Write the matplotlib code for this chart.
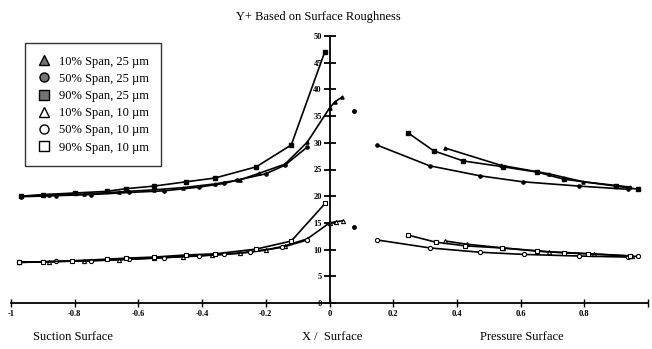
import numpy as np
import matplotlib.pyplot as plt
from matplotlib.lines import Line2D

plt.rcParams['font.family'] = ['Liberation Serif', 'DejaVu Serif']

# 25 um roughness, suction side
s25_10_x = [-0.97, -0.88, -0.77, -0.66, -0.55, -0.46, -0.36, -0.28, -0.22, -0.14, -0.07, 0.0, 0.016, 0.04]
s25_10_y = [20.0, 20.2, 20.4, 20.8, 21.2, 21.6, 22.3, 23.1, 24.3, 26.0, 30.1, 36.5, 37.6, 38.6]
s25_50_x = [-0.97, -0.86, -0.75, -0.63, -0.52, -0.41, -0.33, -0.29, -0.2, -0.14, -0.07]
s25_50_y = [19.9, 20.1, 20.3, 20.7, 21.0, 21.7, 22.4, 23.0, 24.2, 25.8, 29.2]
s25_90_x = [-0.97, -0.9, -0.8, -0.7, -0.64, -0.55, -0.45, -0.36, -0.23, -0.12, -0.015]
s25_90_y = [20.0, 20.3, 20.6, 20.9, 21.4, 21.9, 22.7, 23.4, 25.5, 29.6, 47.0]
# 25 um, pressure side
p25_10_x = [0.364, 0.537, 0.688, 0.797, 0.945]
p25_10_y = [29.0, 25.8, 24.2, 22.7, 21.7]
p25_50_x = [0.148, 0.314, 0.474, 0.606, 0.782, 0.936]
p25_50_y = [29.6, 25.7, 23.8, 22.7, 21.9, 21.3]
p25_90_x = [0.248, 0.327, 0.42, 0.546, 0.653, 0.735, 0.898, 0.97]
p25_90_y = [31.8, 28.5, 26.6, 25.5, 24.5, 23.2, 21.9, 21.3]

# 10 um roughness, suction side
s10_10_x = [-0.976, -0.88, -0.77, -0.66, -0.55, -0.46, -0.37, -0.28, -0.2, -0.14, -0.07, 0.0, 0.019, 0.041]
s10_10_y = [7.6, 7.7, 7.9, 8.1, 8.4, 8.7, 9.0, 9.3, 9.9, 10.7, 12.0, 15.0, 15.2, 15.4]
s10_50_x = [-0.976, -0.86, -0.75, -0.63, -0.52, -0.41, -0.33, -0.25, -0.15, -0.07]
s10_50_y = [7.6, 7.8, 7.9, 8.2, 8.5, 8.8, 9.1, 9.6, 10.4, 11.8]
s10_90_x = [-0.976, -0.9, -0.81, -0.7, -0.64, -0.55, -0.45, -0.36, -0.23, -0.12, -0.013]
s10_90_y = [7.7, 7.7, 7.9, 8.2, 8.4, 8.6, 9.0, 9.2, 10.1, 11.6, 18.7]
# 10 um, pressure side
p10_10_x = [0.364, 0.433, 0.546, 0.688, 0.829, 0.95]
p10_10_y = [11.6, 11.0, 10.3, 9.6, 9.2, 8.8]
p10_50_x = [0.15, 0.317, 0.474, 0.61, 0.782, 0.936, 0.97]
p10_50_y = [11.8, 10.3, 9.5, 9.1, 8.8, 8.6, 8.8]
p10_90_x = [0.248, 0.333, 0.427, 0.543, 0.653, 0.735, 0.813, 0.945]
p10_90_y = [12.7, 11.4, 10.7, 10.3, 9.7, 9.4, 9.2, 8.8]

# stagnation points
stag_x = [0.078, 0.078]
stag_y = [36.0, 14.2]

xticks = [-1, -0.8, -0.6, -0.4, -0.2, 0, 0.2, 0.4, 0.6, 0.8, 1]
xlabels = ['-1', '-0.8', '-0.6', '-0.4', '-0.2', '0', '0.2', '0.4', '0.6', '0.8', '']
yticks = [0, 5, 10, 15, 20, 25, 30, 35, 40, 45, 50]

fig = plt.figure(figsize=(6.52, 3.49), dpi=100)
ax = fig.add_axes([11 / 652, 46 / 349, 637 / 652, 267 / 349])

lw = 1.2
for xs, ys, m in [(s25_10_x, s25_10_y, '^'), (s25_50_x, s25_50_y, 'o'), (s25_90_x, s25_90_y, 's'),
                  (p25_10_x, p25_10_y, '^'), (p25_50_x, p25_50_y, 'o'), (p25_90_x, p25_90_y, 's')]:
    ax.plot(xs, ys, color='k', lw=lw, marker=m, ms=2.3, mfc='k', mec='k')
for xs, ys, m in [(s10_10_x, s10_10_y, '^'), (s10_50_x, s10_50_y, 'o'), (s10_90_x, s10_90_y, 's'),
                  (p10_10_x, p10_10_y, '^'), (p10_50_x, p10_50_y, 'o'), (p10_90_x, p10_90_y, 's')]:
    ax.plot(xs, ys, color='k', lw=lw, marker=m, ms=3.0, mfc='white', mec='k', mew=0.8)
ax.plot(stag_x, stag_y, ls='none', marker='o', ms=2.5, color='k')

ax.set_xlim(-1, 1)
ax.set_ylim(0, 50)
ax.spines['left'].set_position(('data', 0))
ax.spines['top'].set_visible(False)
ax.spines['right'].set_visible(False)
ax.spines['left'].set_linewidth(1.3)
ax.spines['bottom'].set_linewidth(1.3)
ax.set_xticks(xticks)
ax.set_xticklabels(xlabels)
ax.set_yticks(yticks)
ax.set_yticklabels([str(v) for v in yticks])
ax.tick_params(axis='y', direction='inout', length=9, width=1.3, labelsize=6, pad=1)
ax.tick_params(axis='x', direction='inout', length=6, width=1.0, labelsize=6, pad=2)
for t in ax.get_xticklabels() + ax.get_yticklabels():
    t.set_fontweight('bold')

fig.text(0.488, 0.95, 'Y+ Based on Surface Roughness', ha='center', va='center', fontsize=9)
fig.text(0.112, 0.035, 'Suction Surface', ha='center', va='center', fontsize=9)
fig.text(0.51, 0.035, 'X /  Surface', ha='center', va='center', fontsize=9)
fig.text(0.80, 0.035, 'Pressure Surface', ha='center', va='center', fontsize=9)

handles = [
    Line2D([], [], ls='none', marker='^', ms=6.5, mfc='0.45', mec='k'),
    Line2D([], [], ls='none', marker='o', ms=6.5, mfc='0.45', mec='k'),
    Line2D([], [], ls='none', marker='s', ms=6.5, mfc='0.45', mec='k'),
    Line2D([], [], ls='none', marker='^', ms=6.5, mfc='white', mec='k'),
    Line2D([], [], ls='none', marker='o', ms=6.5, mfc='white', mec='k'),
    Line2D([], [], ls='none', marker='s', ms=6.5, mfc='white', mec='k'),
]
labels = ['10% Span, 25 \u00b5m', '50% Span, 25 \u00b5m', '90% Span, 25 \u00b5m',
          '10% Span, 10 \u00b5m', '50% Span, 10 \u00b5m', '90% Span, 10 \u00b5m']
leg = fig.legend(handles, labels, loc='upper left', bbox_to_anchor=(25 / 652, 1 - 43 / 349),
                 fontsize=9, frameon=True, fancybox=False, edgecolor='k', borderpad=1.0,
                 labelspacing=0.42, handletextpad=0.7, handlelength=1.0, borderaxespad=0)
leg.get_frame().set_linewidth(1.0)

fig.savefig('out.png', dpi=100)
